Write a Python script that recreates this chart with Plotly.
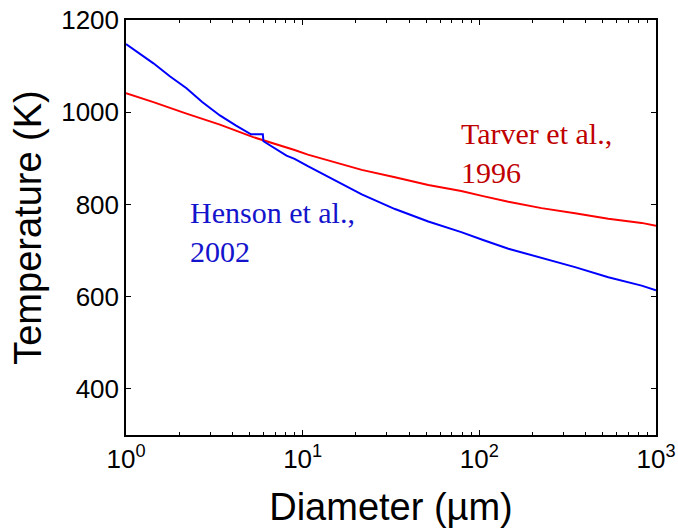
import plotly.graph_objects as go

# Henson et al., 2002 (blue)
henson_d = [1, 1.43, 1.77, 2.2, 2.7, 3.4, 4.2, 5.1, 5.95, 6.0, 8.1, 9.0, 10.7, 14, 21.6, 33.3, 51.4, 79, 94.4, 105, 146, 225, 348, 537, 829, 1000]
henson_T = [1148, 1106, 1078, 1052, 1022, 993, 971, 952, 952, 937, 906, 899, 883, 859, 822, 790, 763, 740, 729, 723, 704, 684, 664, 642, 624, 614]

# Tarver et al., 1996 (red)
tarver_d = [1, 1.43, 2.2, 3.4, 5.25, 8.1, 9.0, 10.7, 14, 21.6, 33.3, 51.4, 79, 94.4, 105, 146, 225, 348, 537, 829, 1000]
tarver_T = [1041, 1022, 997, 973, 946, 924, 918, 908, 895, 875, 859, 842, 829, 823, 818, 806, 792, 781, 769, 760, 754]

x_tickvals = [1, 10, 100, 1000]
x_ticktext = ["10<sup>0</sup>", "10<sup>1</sup>", "10<sup>2</sup>", "10<sup>3</sup>"]
x_minor = [m * 10 ** e for e in range(3) for m in range(2, 10)]
y_tickvals = [400, 600, 800, 1000, 1200]
y_ticktext = ["400", "600", "800", "1000", "1200"]

fig = go.Figure()
fig.add_trace(go.Scatter(x=tarver_d, y=tarver_T, mode="lines",
                         line=dict(color="#FF0000", width=2), showlegend=False))
fig.add_trace(go.Scatter(x=henson_d, y=henson_T, mode="lines",
                         line=dict(color="#0000FF", width=2), showlegend=False))

sans = "Liberation Sans, Arial, sans-serif"
serif = "Liberation Serif, Times New Roman, serif"

fig.update_layout(
    width=678, height=531,
    margin=dict(l=126, r=22, t=20, b=96, autoexpand=False),
    paper_bgcolor="white", plot_bgcolor="white",
    font=dict(family=sans, color="black"),
    xaxis=dict(
        type="log", range=[0, 3], automargin=False,
        tickmode="array", tickvals=x_tickvals, ticktext=x_ticktext,
        ticks="inside", ticklen=5, tickcolor="black",
        minor=dict(tickmode="array", tickvals=x_minor, ticks="inside", ticklen=3, tickcolor="black"),
        showline=True, linecolor="black", linewidth=1.5, mirror="ticks",
        showgrid=False, zeroline=False,
        tickfont=dict(size=26, family=sans, color="black"),
        title=dict(text="Diameter (µm)", font=dict(size=38, family=sans, color="black"), standoff=20),
    ),
    yaxis=dict(
        range=[300, 1200], automargin=False,
        tickmode="array", tickvals=y_tickvals, ticktext=y_ticktext,
        ticks="inside", ticklen=5, tickcolor="black",
        showline=True, linecolor="black", linewidth=1.5, mirror="ticks",
        showgrid=False, zeroline=False,
        tickfont=dict(size=26, family=sans, color="black"),
        title=dict(text="Temperature (K)", font=dict(size=38, family=sans, color="black"), standoff=8),
    ),
    annotations=[
        dict(text="Henson et al.,<br>2002", xref="paper", yref="paper",
             x=0.117, y=0.580, xanchor="left", yanchor="top", align="left",
             showarrow=False, font=dict(size=30, family=serif, color="#1414CC")),
        dict(text="Tarver et al.,<br>1996", xref="paper", yref="paper",
             x=0.628, y=0.772, xanchor="left", yanchor="top", align="left",
             showarrow=False, font=dict(size=30, family=serif, color="#C00000")),
    ],
)

fig.write_html("out.html")
